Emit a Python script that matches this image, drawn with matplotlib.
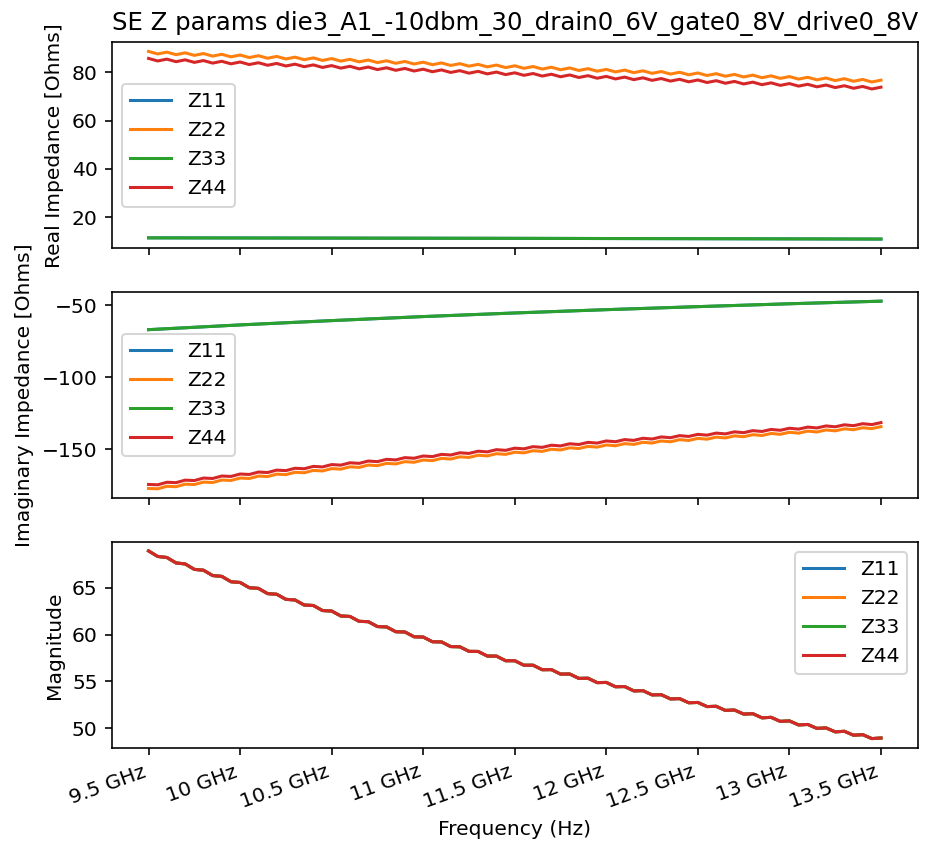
import matplotlib
matplotlib.use("Agg")
import matplotlib.pyplot as plt
from matplotlib.ticker import EngFormatter

title = "SE Z params die3_A1_-10dbm_30_drain0_6V_gate0_8V_drive0_8V"
labels = ["Z11", "Z22", "Z33", "Z44"]

# sweep points (GHz)
freq_ghz = [9.50, 9.55, 9.60, 9.65, 9.70, 9.75, 9.80, 9.85, 9.90, 9.95,
            10.00, 10.05, 10.10, 10.15, 10.20, 10.25, 10.30, 10.35, 10.40, 10.45,
            10.50, 10.55, 10.60, 10.65, 10.70, 10.75, 10.80, 10.85, 10.90, 10.95,
            11.00, 11.05, 11.10, 11.15, 11.20, 11.25, 11.30, 11.35, 11.40, 11.45,
            11.50, 11.55, 11.60, 11.65, 11.70, 11.75, 11.80, 11.85, 11.90, 11.95,
            12.00, 12.05, 12.10, 12.15, 12.20, 12.25, 12.30, 12.35, 12.40, 12.45,
            12.50, 12.55, 12.60, 12.65, 12.70, 12.75, 12.80, 12.85, 12.90, 12.95,
            13.00, 13.05, 13.10, 13.15, 13.20, 13.25, 13.30, 13.35, 13.40, 13.45,
            13.50]
# coarse points for the smooth ports
freq_coarse_ghz = [9.5, 10.0, 10.5, 11.0, 11.5, 12.0, 12.5, 13.0, 13.5]

# real part
real_z11 = [11.50, 11.45, 11.40, 11.35, 11.30, 11.22, 11.15, 11.08, 11.00]
real_z33 = [11.50, 11.45, 11.40, 11.35, 11.30, 11.22, 11.15, 11.08, 11.00]
real_z22 = [88.65, 87.60, 88.35, 87.30, 88.06, 87.01, 87.76, 86.71, 87.46, 86.41,
            87.16, 86.11, 86.87, 85.82, 86.57, 85.52, 86.27, 85.22, 85.97, 84.92,
            85.68, 84.63, 85.38, 84.33, 85.08, 84.03, 84.78, 83.73, 84.49, 83.44,
            84.19, 83.14, 83.89, 82.84, 83.59, 82.54, 83.30, 82.25, 83.00, 81.95,
            82.70, 81.65, 82.40, 81.35, 82.11, 81.06, 81.81, 80.76, 81.51, 80.46,
            81.21, 80.16, 80.92, 79.87, 80.62, 79.57, 80.32, 79.27, 80.02, 78.97,
            79.73, 78.68, 79.43, 78.38, 79.13, 78.08, 78.83, 77.78, 78.54, 77.49,
            78.24, 77.19, 77.94, 76.89, 77.64, 76.59, 77.35, 76.30, 77.05, 76.00,
            76.75]
real_z44 = [85.75, 84.70, 85.45, 84.40, 85.16, 84.11, 84.86, 83.81, 84.56, 83.51,
            84.26, 83.21, 83.97, 82.92, 83.67, 82.62, 83.37, 82.32, 83.07, 82.02,
            82.78, 81.73, 82.48, 81.43, 82.18, 81.13, 81.88, 80.83, 81.59, 80.54,
            81.29, 80.24, 80.99, 79.94, 80.69, 79.64, 80.40, 79.35, 80.10, 79.05,
            79.80, 78.75, 79.50, 78.45, 79.21, 78.16, 78.91, 77.86, 78.61, 77.56,
            78.31, 77.26, 78.02, 76.97, 77.72, 76.67, 77.42, 76.37, 77.12, 76.07,
            76.83, 75.78, 76.53, 75.48, 76.23, 75.18, 75.93, 74.88, 75.64, 74.59,
            75.34, 74.29, 75.04, 73.99, 74.74, 73.69, 74.45, 73.40, 74.15, 73.10,
            73.85]

# imaginary part
imag_z11 = [-66.9, -63.6, -60.6, -57.8, -55.3, -53.0, -50.9, -48.9, -47.1]
imag_z33 = [-66.9, -63.6, -60.6, -57.8, -55.3, -53.0, -50.9, -48.9, -47.1]
imag_z22 = [-177.25, -177.49, -175.74, -176.00, -174.26, -174.53, -172.81, -173.10, -171.39, -171.69,
            -170.00, -170.31, -168.64, -168.96, -167.30, -167.64, -165.99, -166.34, -164.70, -165.07,
            -163.44, -163.82, -162.20, -162.59, -160.99, -161.39, -159.79, -160.20, -158.62, -159.04,
            -157.47, -157.91, -156.34, -156.79, -155.24, -155.69, -154.15, -154.61, -153.08, -153.55,
            -152.03, -152.51, -150.99, -151.48, -149.98, -150.48, -148.98, -149.49, -148.00, -148.51,
            -147.03, -147.56, -146.08, -146.62, -145.15, -145.69, -144.23, -144.78, -143.33, -143.88,
            -142.44, -143.00, -141.57, -142.13, -140.70, -141.28, -139.86, -140.44, -139.02, -139.61,
            -138.20, -138.79, -137.39, -137.99, -136.59, -137.20, -135.81, -136.42, -135.04, -135.65,
            -134.27]
imag_z44 = [-174.45, -174.69, -172.94, -173.20, -171.46, -171.73, -170.01, -170.30, -168.59, -168.89,
            -167.20, -167.51, -165.84, -166.16, -164.50, -164.84, -163.19, -163.54, -161.90, -162.27,
            -160.64, -161.02, -159.40, -159.79, -158.19, -158.59, -156.99, -157.40, -155.82, -156.24,
            -154.67, -155.11, -153.54, -153.99, -152.44, -152.89, -151.35, -151.81, -150.28, -150.75,
            -149.23, -149.71, -148.19, -148.68, -147.18, -147.68, -146.18, -146.69, -145.20, -145.71,
            -144.23, -144.76, -143.28, -143.82, -142.35, -142.89, -141.43, -141.98, -140.53, -141.08,
            -139.64, -140.20, -138.77, -139.33, -137.90, -138.48, -137.06, -137.64, -136.22, -136.81,
            -135.40, -135.99, -134.59, -135.19, -133.79, -134.40, -133.01, -133.62, -132.24, -132.85,
            -131.47]

# magnitude (all four ports overlap)
mag_all = [68.94, 68.35, 68.24, 67.66, 67.55, 66.97, 66.88, 66.31, 66.22, 65.65,
           65.57, 65.01, 64.94, 64.38, 64.31, 63.77, 63.70, 63.16, 63.11, 62.57,
           62.52, 61.99, 61.94, 61.42, 61.38, 60.86, 60.82, 60.31, 60.28, 59.77,
           59.74, 59.24, 59.22, 58.72, 58.70, 58.21, 58.20, 57.71, 57.70, 57.21,
           57.21, 56.73, 56.73, 56.25, 56.26, 55.78, 55.79, 55.32, 55.34, 54.87,
           54.89, 54.43, 54.45, 53.99, 54.01, 53.56, 53.58, 53.13, 53.16, 52.72,
           52.75, 52.31, 52.34, 51.90, 51.94, 51.51, 51.55, 51.11, 51.16, 50.73,
           50.78, 50.35, 50.40, 49.98, 50.03, 49.61, 49.67, 49.25, 49.31, 48.89,
           48.95]

f_hz = [f * 1e9 for f in freq_ghz]
fc_hz = [f * 1e9 for f in freq_coarse_ghz]

dpi = 146
fig, axs = plt.subplots(3, 1, sharex=True, figsize=(925 / dpi, 849 / dpi), dpi=dpi)
fig.subplots_adjust(left=0.121, right=0.992, top=0.9505, bottom=0.119, hspace=0.21)

ax = axs[0]
ax.plot(fc_hz, real_z11, label="Z11")
ax.plot(f_hz, real_z22, label="Z22")
ax.plot(fc_hz, real_z33, label="Z33")
ax.plot(f_hz, real_z44, label="Z44")
ax.set_ylabel("Real Impedance [Ohms]")
ax.set_title(title)
ax.legend(loc="center left")

ax = axs[1]
ax.plot(fc_hz, imag_z11, label="Z11")
ax.plot(f_hz, imag_z22, label="Z22")
ax.plot(fc_hz, imag_z33, label="Z33")
ax.plot(f_hz, imag_z44, label="Z44")
ax.set_ylabel("Imaginary Impedance [Ohms]")
ax.legend(loc="center left")

ax = axs[2]
for lab in labels:
    ax.plot(f_hz, mag_all, label=lab)
ax.set_ylabel("Magnitude")
ax.set_xlabel("Frequency (Hz)")
ax.legend(loc="upper right")
ax.xaxis.set_major_formatter(EngFormatter(unit="Hz"))
plt.setp(ax.get_xticklabels(), rotation=20, ha="right")

fig.savefig("out.png", dpi=dpi)
